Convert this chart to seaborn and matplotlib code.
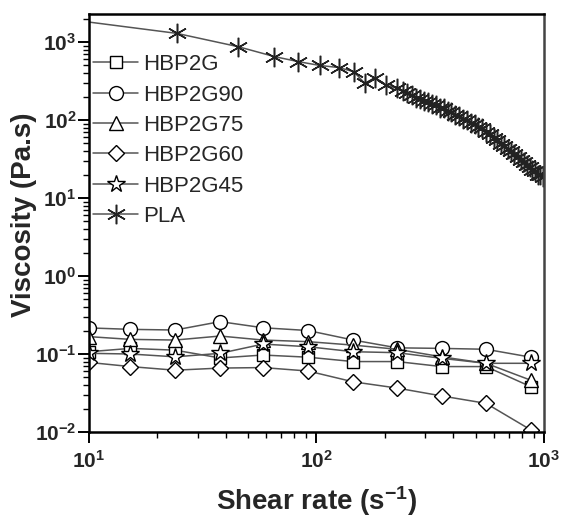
import numpy as np
import pandas as pd
import seaborn as sns
import matplotlib
matplotlib.use("Agg")
import matplotlib.pyplot as plt
from matplotlib.ticker import LogLocator, NullFormatter, FixedLocator

# ---- data -------------------------------------------------------------
shear_blend = [10, 15.2, 23.9, 37.7, 58.2, 91.8, 145, 226, 355, 556, 877]

visc_hbp2g = [0.107, 0.118, 0.112, 0.089, 0.097, 0.091, 0.080, 0.080, 0.069, 0.069, 0.038]
visc_hbp2g90 = [0.216, 0.207, 0.203, 0.260, 0.217, 0.200, 0.151, 0.120, 0.118, 0.115, 0.091]
visc_hbp2g75 = [0.167, 0.154, 0.151, 0.170, 0.151, 0.144, 0.130, 0.115, 0.092, 0.076, 0.046]
visc_hbp2g60 = [0.078, 0.069, 0.062, 0.066, 0.067, 0.0605, 0.044, 0.0366, 0.029, 0.0233, 0.0106]
visc_hbp2g45 = [0.102, 0.100, 0.092, 0.102, 0.134, 0.124, 0.107, 0.104, 0.088, 0.076, 0.076]

shear_pla = [10, 24.3, 45.3, 65.3, 83.2, 103.5, 125.6, 146, 163, 181, 202, 225,
             240, 250, 262, 274, 285, 297, 310, 322, 335, 348, 362, 377, 392, 408,
             424, 441, 458, 476, 495, 515, 535, 556, 578, 600, 622, 645, 668, 692,
             716, 740, 765, 790, 815, 840, 865, 890, 915, 940, 965, 990]
visc_pla = [1800, 1290, 870, 650, 560, 500, 470, 415, 295, 350, 280, 255,
            236, 219, 208, 191, 186, 173, 169, 158, 155, 144, 141, 131, 128, 116,
            113, 103, 100, 92, 89, 81, 78, 70, 66, 59, 56, 49, 47, 42,
            40.5, 36.2, 34.0, 30.4, 28.8, 26.2, 25.1, 22.9, 21.9, 20.0, 19.5, 18.6]

labels = ["HBP2G", "HBP2G90", "HBP2G75", "HBP2G60", "HBP2G45", "PLA"]
y_ticks = [1e-2, 1e-1, 1e0, 1e1, 1e2, 1e3]
y_tick_labels = [r"$\mathbf{10^{-2}}$", r"$\mathbf{10^{-1}}$", r"$\mathbf{10^{0}}$",
                 r"$\mathbf{10^{1}}$", r"$\mathbf{10^{2}}$", r"$\mathbf{10^{3}}$"]
x_ticks = [1e1, 1e2, 1e3]
x_tick_labels = [r"$\mathbf{10^{1}}$", r"$\mathbf{10^{2}}$", r"$\mathbf{10^{3}}$"]

# ---- style ------------------------------------------------------------
sns.set_style("white")
plt.rcParams["font.family"] = ["Liberation Sans", "DejaVu Sans"]
plt.rcParams["mathtext.fontset"] = "custom"
plt.rcParams["mathtext.bf"] = "Liberation Sans:bold"
plt.rcParams["mathtext.rm"] = "Liberation Sans"
plt.rcParams["mathtext.it"] = "Liberation Sans"

fig = plt.figure(figsize=(5.61, 5.28), dpi=100)
ax = fig.add_axes([0.1586, 0.1818, 0.8111, 0.7917])

line_gray = "#555555"
series = [
    (shear_blend, visc_hbp2g, "s", 9),
    (shear_blend, visc_hbp2g90, "o", 10),
    (shear_blend, visc_hbp2g75, "^", 10),
    (shear_blend, visc_hbp2g60, "D", 8.5),
    (shear_blend, visc_hbp2g45, "*", 13),
]
for (xs, ys, mk, ms), lab in zip(series, labels[:5]):
    sns.lineplot(x=xs, y=ys, ax=ax, color=line_gray, lw=1.1, marker=mk, ms=ms,
                 mfc="white", mec="black", mew=1.0, label=lab, sort=False,
                 estimator=None)

sns.lineplot(x=shear_pla, y=visc_pla, ax=ax, color=line_gray, lw=1.1,
             marker=(6, 2, 0), ms=14, mec="#222222", mew=1.1,
             markevery=list(range(1, len(shear_pla))), label=labels[5],
             sort=False, estimator=None)

ax.set_xscale("log")
ax.set_yscale("log")
ax.set_xlim(10, 1000)
ax.set_ylim(0.01, 2285)

ax.xaxis.set_major_locator(FixedLocator(x_ticks))
ax.set_xticklabels(x_tick_labels)
ax.yaxis.set_major_locator(FixedLocator(y_ticks))
ax.set_yticklabels(y_tick_labels)
ax.xaxis.set_minor_locator(LogLocator(base=10, subs=np.arange(2, 10)))
ax.yaxis.set_minor_locator(LogLocator(base=10, subs=np.arange(2, 10), numticks=20))
ax.xaxis.set_minor_formatter(NullFormatter())
ax.yaxis.set_minor_formatter(NullFormatter())

ax.tick_params(axis="both", which="major", direction="out", length=8, width=1.4,
               labelsize=15, color="black", bottom=True, left=True, top=False, right=False)
ax.tick_params(axis="both", which="minor", direction="out", length=4, width=1.0,
               color="black", bottom=True, left=True, top=False, right=False)
ax.tick_params(axis="x", which="major", pad=5)
ax.tick_params(axis="y", which="major", pad=1)

for side in ["left", "bottom", "top"]:
    ax.spines[side].set_linewidth(1.8)
    ax.spines[side].set_color("black")
ax.spines["right"].set_linewidth(1.8)
ax.spines["right"].set_color("#444444")

ax.set_ylabel("Viscosity (Pa.s)", fontsize=20, fontweight="bold")
ax.yaxis.set_label_coords(-0.115, 0.52)
ax.set_xlabel(r"Shear rate (s$^{\mathbf{-1}}$)", fontsize=20, fontweight="bold")
ax.xaxis.set_label_coords(0.5, -0.125)

leg = ax.legend(loc="upper left", bbox_to_anchor=(-0.01, 0.925), frameon=False,
                fontsize=16, handlelength=2.0, handletextpad=0.25, labelspacing=0.42,
                borderaxespad=0.0)

fig.savefig("out.png", dpi=100)
